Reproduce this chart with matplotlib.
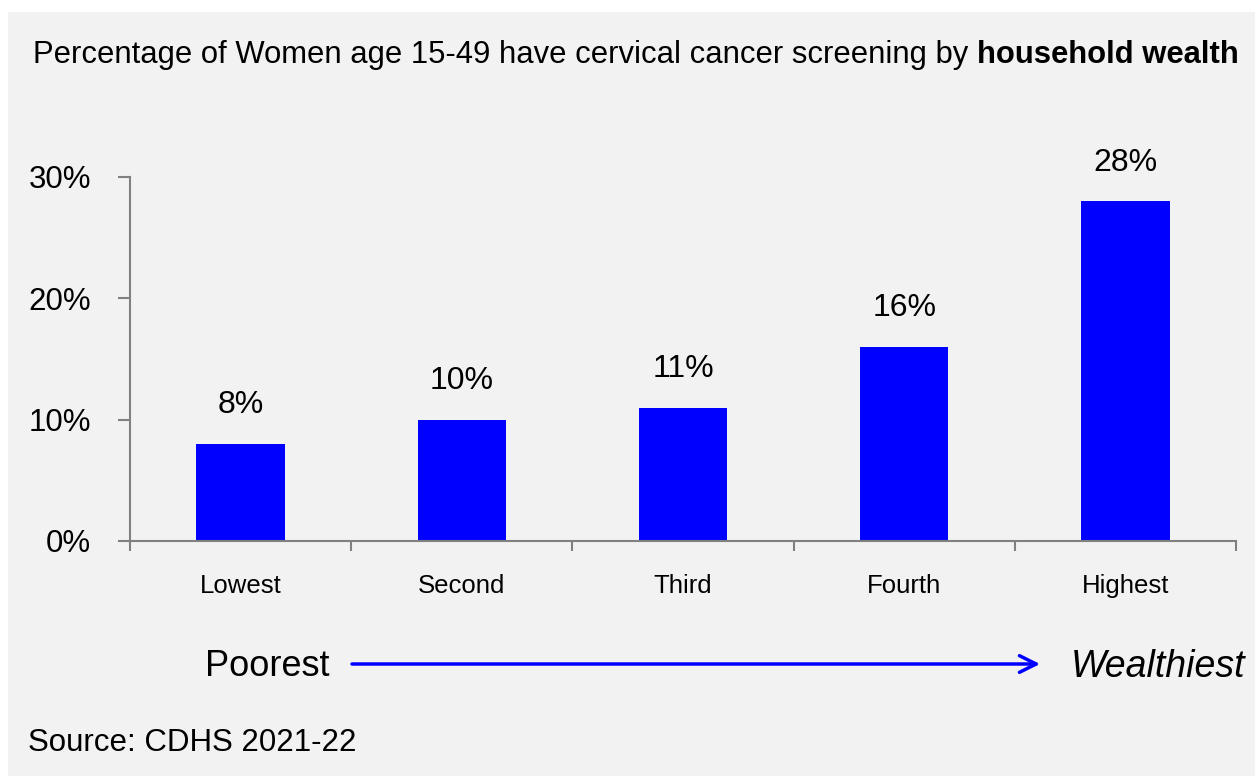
import matplotlib.pyplot as plt
from matplotlib.patches import Rectangle

categories = ['Lowest', 'Second', 'Third', 'Fourth', 'Highest']
values = [8, 10, 11, 16, 28]
y_ticks = [0, 10, 20, 30]

plt.rcParams['font.family'] = ['Liberation Sans', 'DejaVu Sans']

fig = plt.figure(figsize=(12.55, 7.76), dpi=100)
fig.patch.set_facecolor('white')
# grey panel behind everything
fig.patches.append(Rectangle((8 / 1255, 0), 1 - 8 / 1255, 1 - 12 / 776,
                             transform=fig.transFigure, facecolor='#f2f2f2',
                             edgecolor='none', zorder=-10))

ax = fig.add_axes([130 / 1255, 1 - 541 / 776, (1236 - 130) / 1255, (541 - 177) / 776])
ax.set_facecolor('none')

x = list(range(len(categories)))
ax.bar(x, values, width=0.4, color='#0000ff')
for xi, v in zip(x, values):
    ax.annotate(f'{v}%', (xi, v), xytext=(0, 17), textcoords='offset points',
                ha='center', va='bottom', fontsize=23)

ax.set_xlim(-0.5, len(categories) - 0.5)
ax.set_ylim(0, 30)

ax.set_yticks(y_ticks)
ax.set_yticklabels([f'{t}%' for t in y_ticks], fontsize=22.5)
ax.tick_params(axis='y', length=9, width=1.5, color='#808080', pad=19)

ax.set_xticks([i - 0.5 for i in range(len(categories) + 1)])
ax.set_xticklabels([])
ax.tick_params(axis='x', which='major', length=7, width=1.5, color='#808080')
ax.set_xticks(x, minor=True)
ax.set_xticklabels(categories, minor=True, fontsize=18.5)
ax.tick_params(axis='x', which='minor', length=0, pad=24)

for s in ['top', 'right']:
    ax.spines[s].set_visible(False)
for s in ['left', 'bottom']:
    ax.spines[s].set_color('#808080')
    ax.spines[s].set_linewidth(1.5)

# title, regular part then bold part
ty = 1 - 55 / 776
t1 = fig.text(33 / 1255, ty,
              'Percentage of Women age 15-49 have cervical cancer screening by ',
              fontsize=22.3, va='center', ha='left')
fig.canvas.draw()
bb = t1.get_window_extent()
fig.text(bb.x1 / fig.bbox.width, ty, 'household wealth',
         fontsize=22.3, fontweight='bold', va='center', ha='left')

# poorest -> wealthiest arrow
fig.text(205 / 1255, 1 - 667 / 776, 'Poorest', fontsize=26, va='center', ha='left')
fig.text(1245 / 1255, 1 - 667 / 776, 'Wealthiest', fontsize=27, style='italic',
         va='center', ha='right')
ax.annotate('', xy=(1040 / 1255, 1 - 664 / 776), xytext=(352 / 1255, 1 - 664 / 776),
            xycoords='figure fraction', textcoords='figure fraction',
            arrowprops=dict(arrowstyle='->', color='#0000ff', lw=2.5,
                            mutation_scale=30, shrinkA=0, shrinkB=0))

fig.text(28 / 1255, 1 - 743 / 776, 'Source: CDHS 2021-22', fontsize=22.5,
         va='center', ha='left')

fig.savefig('out.png', dpi=100, facecolor=fig.get_facecolor())
